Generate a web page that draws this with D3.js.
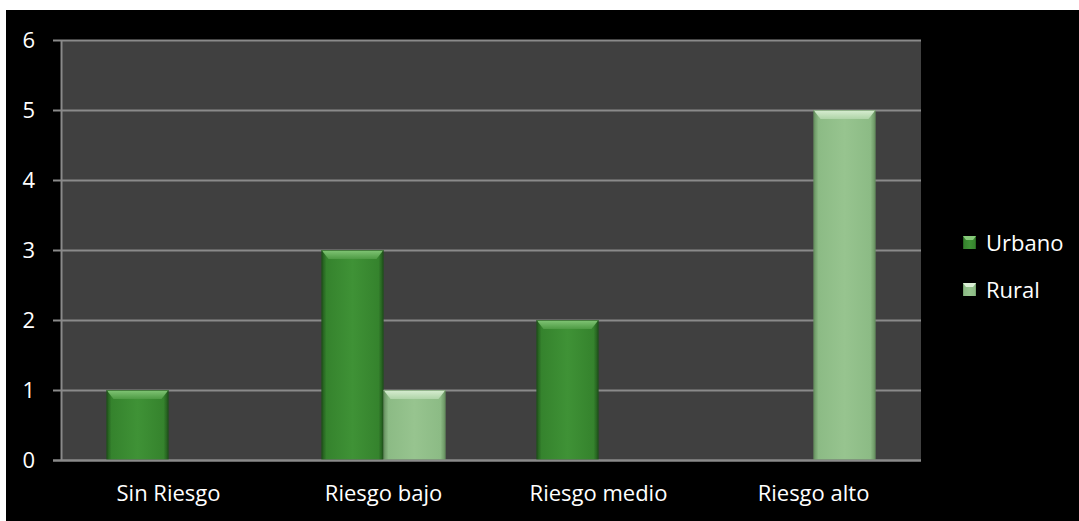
<!DOCTYPE html>
<html><head><meta charset="utf-8">
<script src="https://cdn.jsdelivr.net/npm/d3@7/dist/d3.min.js"></script>
<style>
html,body{margin:0;padding:0;background:#fff;}
svg{display:block;}
text{font-family:"Open Sans","Noto Sans",sans-serif;fill:#fff;}
</style></head>
<body>
<svg id="chart" width="1079" height="521"></svg>
<script>
const categories = ["Sin Riesgo", "Riesgo bajo", "Riesgo medio", "Riesgo alto"];
const seriesNames = ["Urbano", "Rural"];
const urbano = [1, 3, 2, 0];
const rural = [0, 1, 0, 5];
const yTicks = [0, 1, 2, 3, 4, 5, 6];

const W = 1079, H = 521;
const plot = {l: 61, r: 921, t: 40, b: 460};
const svg = d3.select("#chart");

// outer black frame
svg.append("rect").attr("x", 0).attr("y", 0).attr("width", W).attr("height", H).attr("fill", "#fff");
svg.append("rect").attr("x", 6).attr("y", 10).attr("width", W - 6).attr("height", H - 10).attr("fill", "#000");

const defs = svg.append("defs");
const pal = {
  Urbano: {edge: "#1f521a", main: "#35832d", light: "#3f9236", top: "#86c97a", topEdge: "#4f9c45"},
  Rural: {edge: "#66905f", main: "#8cbb85", light: "#97c48f", top: "#dcf0d6", topEdge: "#b0d5a9"}
};
seriesNames.forEach(s => {
  const g = defs.append("linearGradient").attr("id", "g" + s).attr("x1", 0).attr("x2", 1).attr("y1", 0).attr("y2", 0);
  g.append("stop").attr("offset", "0%").attr("stop-color", pal[s].edge);
  g.append("stop").attr("offset", "8%").attr("stop-color", pal[s].main);
  g.append("stop").attr("offset", "50%").attr("stop-color", pal[s].light);
  g.append("stop").attr("offset", "92%").attr("stop-color", pal[s].main);
  g.append("stop").attr("offset", "100%").attr("stop-color", pal[s].edge);
  const t = defs.append("linearGradient").attr("id", "t" + s).attr("x1", 0).attr("x2", 0).attr("y1", 0).attr("y2", 1);
  t.append("stop").attr("offset", "0%").attr("stop-color", pal[s].top);
  t.append("stop").attr("offset", "100%").attr("stop-color", pal[s].topEdge);
});

// plot background
svg.append("rect").attr("x", plot.l).attr("y", plot.t).attr("width", plot.r - plot.l).attr("height", plot.b - plot.t).attr("fill", "#404040");

const y = d3.scaleLinear().domain([0, 6]).range([plot.b, plot.t]);
const x0 = d3.scaleBand().domain(categories).range([plot.l, plot.r]).paddingInner(0.4233).paddingOuter(0.21165);
const x1 = d3.scaleBand().domain(seriesNames).range([0, x0.bandwidth()]);

// gridlines
const grid = svg.append("g").attr("transform", `translate(${plot.l},0)`)
  .call(d3.axisLeft(y).tickValues(yTicks).tickSize(-(plot.r - plot.l)).tickFormat(""));
grid.select(".domain").remove();
grid.selectAll("line").attr("stroke", "#8a8a8a").attr("stroke-width", 2);

// bars
const data = [];
categories.forEach((c, i) => {
  data.push({cat: c, s: "Urbano", v: urbano[i]});
  data.push({cat: c, s: "Rural", v: rural[i]});
});
const bars = svg.append("g").selectAll("g").data(data.filter(d => d.v > 0)).join("g")
  .attr("transform", d => `translate(${x0(d.cat) + x1(d.s)},0)`);
const bw = x1.bandwidth();
bars.append("rect").attr("x", 0).attr("y", d => y(d.v)).attr("width", bw).attr("height", d => y(0) - y(d.v))
  .attr("fill", d => `url(#g${d.s})`);
bars.append("path").attr("d", d => {
  const t = y(d.v), h = 9;
  return `M0,${t} L${bw},${t} L${bw - 7},${t + h} L7,${t + h} Z`;
}).attr("fill", d => `url(#t${d.s})`).attr("opacity", 0.95);
bars.append("rect").attr("x", 0.5).attr("y", d => y(d.v) + 0.5).attr("width", bw - 1).attr("height", d => y(0) - y(d.v) - 1)
  .attr("fill", "none").attr("stroke", d => pal[d.s].edge).attr("stroke-opacity", 0.6);

// y axis
const yAxis = svg.append("g").attr("transform", `translate(${plot.l},0)`)
  .call(d3.axisLeft(y).tickValues(yTicks).tickSize(8).tickPadding(18).tickFormat(d3.format("d")));
yAxis.select(".domain").attr("stroke", "#8a8a8a").attr("stroke-width", 2).attr("d", `M0.5,${plot.t}V${plot.b}`);
yAxis.selectAll(".tick line").attr("stroke", "#8a8a8a").attr("stroke-width", 2);
yAxis.selectAll(".tick text").attr("fill", "#fff").style("font-size", "22px").style("font-family", '"Open Sans","Noto Sans",sans-serif');

// x axis
const xAxis = svg.append("g").attr("transform", `translate(0,${plot.b})`)
  .call(d3.axisBottom(x0).tickSize(0).tickPadding(25));
xAxis.select(".domain").attr("stroke", "#8a8a8a").attr("stroke-width", 2).attr("d", `M${plot.l - 8},0.5H${plot.r}`);
xAxis.selectAll(".tick text").attr("fill", "#fff").style("font-size", "22px").style("font-family", '"Open Sans","Noto Sans",sans-serif');

// legend
const legend = svg.append("g").attr("transform", "translate(963,236)");
const li = legend.selectAll("g").data(seriesNames).join("g").attr("transform", (d, i) => `translate(0,${i * 47})`);
li.append("rect").attr("width", 13).attr("height", 13).attr("fill", d => `url(#g${d})`);
li.append("path").attr("d", "M0,0 L13,0 L10,4 L3,4 Z").attr("fill", d => pal[d].top);
li.append("text").attr("x", 23).attr("y", 7).attr("dy", "0.35em").text(d => d).style("font-size", "22px");
</script>
</body></html>
